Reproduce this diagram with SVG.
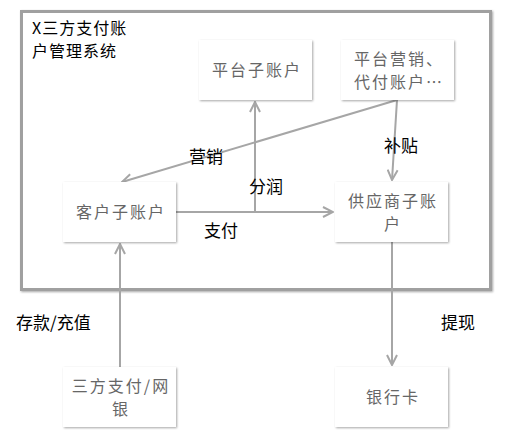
<svg xmlns="http://www.w3.org/2000/svg" width="516" height="435" viewBox="0 0 516 435">
<defs>
<filter id="sh" x="-20%" y="-20%" width="140%" height="140%">
<feDropShadow dx="1" dy="1" stdDeviation="1.2" flood-color="#000" flood-opacity="0.35"/>
</filter>
<marker id="ah" viewBox="0 0 12 12" refX="11" refY="6" markerWidth="12" markerHeight="12" markerUnits="userSpaceOnUse" orient="auto">
<path d="M1,1 L11,6 L1,11" fill="none" stroke="#a6a6a6" stroke-width="2"/>
</marker>
</defs>
<style>
.box{fill:#fff;filter:url(#sh)}
.nt{font-family:"Microsoft YaHei","Noto Sans CJK SC",sans-serif;font-size:16px;fill:#666;text-anchor:middle;letter-spacing:2px}
.lb{font-family:"Microsoft YaHei","Noto Sans CJK SC",sans-serif;font-size:17px;fill:#000}
.tt{font-family:"Microsoft YaHei","Noto Sans CJK SC",sans-serif;font-size:16px;fill:#000;letter-spacing:1px}
.cn{stroke:#a6a6a6;stroke-width:2;fill:none}
</style>
<rect width="516" height="435" fill="#fff"/>
<g id="container">
<rect x="21.5" y="11.5" width="469" height="278" fill="#fff" stroke="#a0a0a0" stroke-width="3" filter="url(#sh)"/>
<text class="tt" x="32" y="34">X三方支付账</text>
<text class="tt" x="32" y="57">户管理系统</text>
</g>
<g id="connectors">
<path class="cn" d="M176,212 H333" marker-end="url(#ah)"/>
<path class="cn" d="M255,212 V102" marker-end="url(#ah)"/>
<path class="cn" d="M397,100 L122,182" marker-end="url(#ah)"/>
<path class="cn" d="M397,100 L392,180" marker-end="url(#ah)"/>
<path class="cn" d="M120,367 V244" marker-end="url(#ah)"/>
<path class="cn" d="M392,242 V365" marker-end="url(#ah)"/>
<text class="lb" x="189" y="163">营销</text>
<text class="lb" x="249" y="193">分润</text>
<text class="lb" x="204" y="237">支付</text>
<text class="lb" x="384" y="152">补贴</text>
<text class="lb" x="16" y="329">存款/充值</text>
<text class="lb" x="441" y="329">提现</text>
</g>
<g id="n1"><rect class="box" x="199" y="40" width="113" height="60"/><text class="nt" x="257" y="76">平台子账户</text></g>
<g id="n2"><rect class="box" x="341" y="40" width="113" height="60"/><text class="nt" x="399" y="65">平台营销、</text><text class="nt" x="399" y="88">代付账户…</text></g>
<g id="n3"><rect class="box" x="63" y="182" width="113" height="60"/><text class="nt" x="121" y="218">客户子账户</text></g>
<g id="n4"><rect class="box" x="335" y="182" width="113" height="60"/><text class="nt" x="393" y="207">供应商子账</text><text class="nt" x="393" y="230">户</text></g>
<g id="n5"><rect class="box" x="63" y="367" width="113" height="60"/><text class="nt" x="121" y="392">三方支付/网</text><text class="nt" x="121" y="415">银</text></g>
<g id="n6"><rect class="box" x="335" y="367" width="113" height="60"/><text class="nt" x="393" y="403">银行卡</text></g>
</svg>
